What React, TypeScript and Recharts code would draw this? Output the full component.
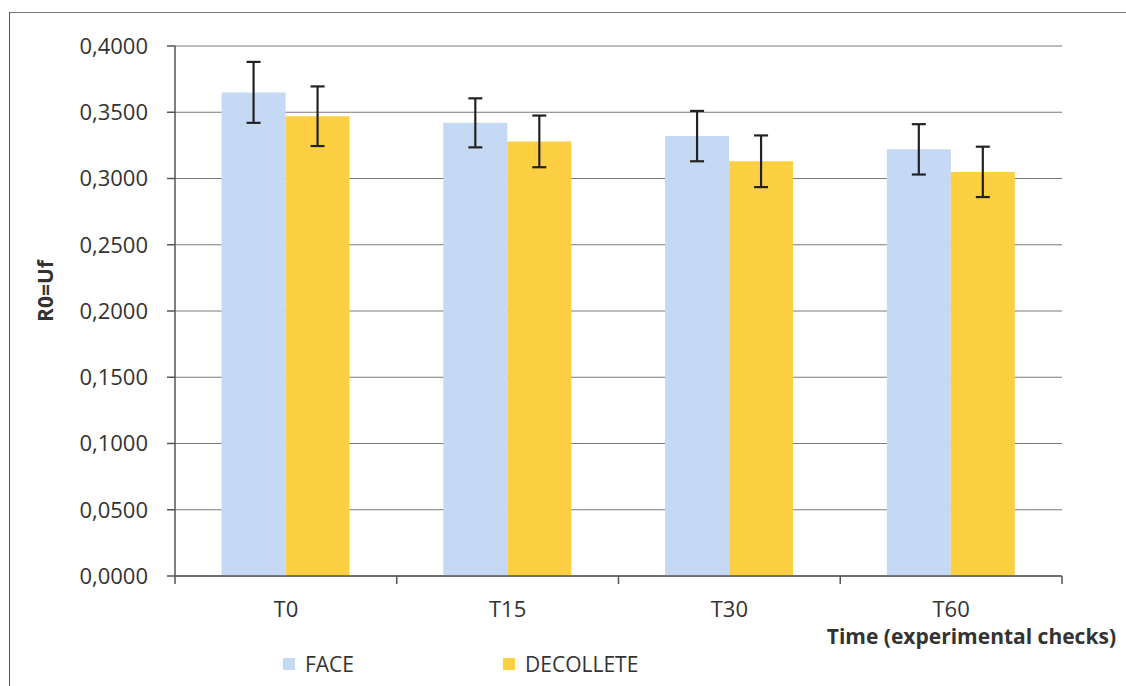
import { BarChart, Bar, XAxis, YAxis, CartesianGrid, Legend, ErrorBar, Label } from "recharts"

// values
const checks = ["T0", "T15", "T30", "T60"]
const seriesNames = ["FACE", "DECOLLETE"]
const face = [0.365, 0.342, 0.332, 0.322]
const faceErr = [0.023, 0.0185, 0.019, 0.019]
const decollete = [0.347, 0.328, 0.313, 0.305]
const decolleteErr = [0.0225, 0.0195, 0.0195, 0.019]
const yTicks = [0, 0.05, 0.1, 0.15, 0.2, 0.25, 0.3, 0.35, 0.4]

const data = checks.map((check, i) => ({
  check,
  FACE: face[i],
  faceErr: faceErr[i],
  DECOLLETE: decollete[i],
  decolleteErr: decolleteErr[i],
}))

const FONT = "'Open Sans', sans-serif"
const TEXT = "#333"
const AXIS = "#555"
const WIDTH = 1126
const HEIGHT = 686
const MARGIN = { top: 46, right: 64, bottom: 0, left: 0 }
const Y_AXIS_WIDTH = 175
const X_AXIS_HEIGHT = 110
const band = (WIDTH - MARGIN.left - MARGIN.right - Y_AXIS_WIDTH) / checks.length

function XTick(props: any) {
  const { x, y, payload, index } = props
  const left = x - band / 2
  return (
    <g>
      <line x1={left} y1={y} x2={left} y2={y + 8} stroke={AXIS} strokeWidth={1.5} />
      {index === checks.length - 1 && (
        <line x1={x + band / 2} y1={y} x2={x + band / 2} y2={y + 8} stroke={AXIS} strokeWidth={1.5} />
      )}
      <text x={x} y={y + 41} textAnchor="middle" fill={TEXT} fontSize={22} fontFamily={FONT}>
        {payload.value}
      </text>
    </g>
  )
}

function LegendContent(props: any) {
  const items = [...(props.payload || [])].sort(
    (a: any, b: any) => seriesNames.indexOf(a.value) - seriesNames.indexOf(b.value)
  )
  return (
    <div style={{ display: "flex", fontFamily: FONT, fontSize: 21, color: TEXT }}>
      {items.map((item: any) => (
        <div key={item.value} style={{ display: "flex", alignItems: "center", width: 220 }}>
          <span style={{ width: 12, height: 12, background: item.color, marginRight: 10, display: "inline-block" }} />
          <span>{item.value}</span>
        </div>
      ))}
    </div>
  )
}

export default function App() {
  return (
    <div style={{ position: "absolute", left: 0, top: 0, width: WIDTH, height: HEIGHT, overflow: "hidden", background: "#fff" }}>
      {/* scanned page frame */}
      <div style={{ position: "absolute", left: 9, top: 12, right: -2, bottom: -2, borderTop: "1.5px solid #777", borderLeft: "1.5px solid #555" }} />
      <BarChart
        width={WIDTH}
        height={HEIGHT}
        data={data}
        margin={MARGIN}
        barCategoryGap="21%"
        barGap={0}
      >
        <CartesianGrid vertical={false} stroke="#7a7a7a" strokeWidth={1.2} />
        <XAxis
          dataKey="check"
          stroke={AXIS}
          strokeWidth={1.5}
          tickLine={false}
          tickSize={0}
          tickMargin={0}
          tick={<XTick />}
          interval={0}
          height={X_AXIS_HEIGHT}
        >
          <Label
            content={(p: any) => {
              const vb = p.viewBox
              return (
                <text x={vb.x + vb.width + 54} y={vb.y + 68} textAnchor="end" fill={TEXT} fontSize={21} fontWeight="bold" fontFamily={FONT}>
                  Time (experimental checks)
                </text>
              )
            }}
          />
        </XAxis>
        <YAxis
          width={Y_AXIS_WIDTH}
          domain={[0, 0.4]}
          ticks={yTicks}
          interval={0}
          stroke={AXIS}
          strokeWidth={1.5}
          tickSize={8}
          tickMargin={19}
          tick={{ fill: TEXT, fontSize: 22, fontFamily: FONT }}
          tickFormatter={(v: number) => v.toFixed(4).replace(".", ",")}
        >
          <Label
            content={(p: any) => {
              const vb = p.viewBox
              const cy = vb.y + vb.height / 2 - 20
              return (
                <text x={45} y={cy} transform={`rotate(-90 45 ${cy})`} textAnchor="middle" dominantBaseline="central" fill={TEXT} fontSize={21} fontWeight="bold" fontFamily={FONT}>
                  R0=Uf
                </text>
              )
            }}
          />
        </YAxis>
        <Legend
          layout="horizontal"
          verticalAlign="middle"
          align="center"
          content={<LegendContent />}
          wrapperStyle={{ position: "absolute", left: 283, top: 650, width: "auto" }}
        />
        <Bar dataKey="FACE" fill="#c5d9f5" isAnimationActive={false}>
          <ErrorBar dataKey="faceErr" width={7} stroke="#222" strokeWidth={2.2} isAnimationActive={false} />
        </Bar>
        <Bar dataKey="DECOLLETE" fill="#fdd043" isAnimationActive={false}>
          <ErrorBar dataKey="decolleteErr" width={7} stroke="#222" strokeWidth={2.2} isAnimationActive={false} />
        </Bar>
      </BarChart>
    </div>
  )
}
